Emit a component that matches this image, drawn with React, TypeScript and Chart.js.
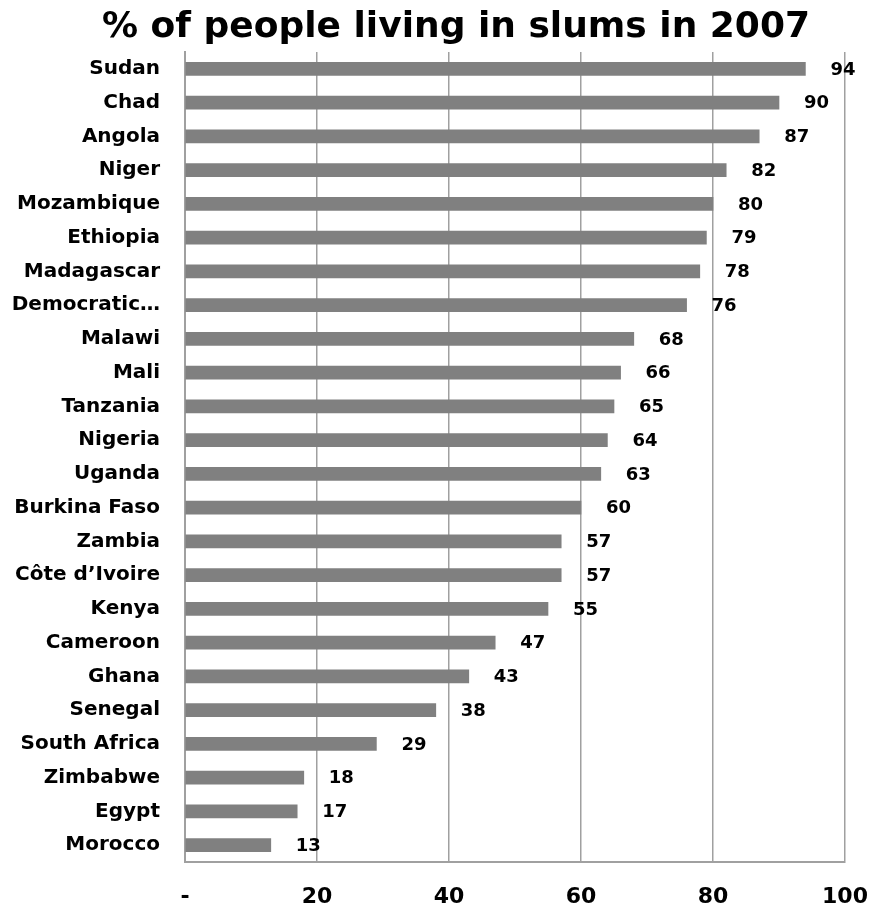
import React, { useEffect, useRef } from "react";
import { Chart, registerables } from "chart.js";

Chart.register(...registerables);

const titleText = "% of people living in slums in 2007";
const categories = [
  "Sudan", "Chad", "Angola", "Niger", "Mozambique", "Ethiopia", "Madagascar",
  "Democratic\u2026", "Malawi", "Mali", "Tanzania", "Nigeria", "Uganda",
  "Burkina Faso", "Zambia", "C\u00f4te d\u2019Ivoire", "Kenya", "Cameroon",
  "Ghana", "Senegal", "South Africa", "Zimbabwe", "Egypt", "Morocco",
];
const values = [94, 90, 87, 82, 80, 79, 78, 76, 68, 66, 65, 64, 63, 60, 57, 57, 55, 47, 43, 38, 29, 18, 17, 13];
const xTickValues = [0, 20, 40, 60, 80, 100];
const xTickLabels = ["-", "20", "40", "60", "80", "100"];

const FONT = "'DejaVu Sans', sans-serif";

const titlePlugin = {
  id: "customTitle",
  afterDraw(chart: any) {
    const ctx = chart.ctx;
    ctx.save();
    ctx.font = `bold 36px ${FONT}`;
    ctx.fillStyle = "#000";
    ctx.textAlign = "center";
    ctx.textBaseline = "middle";
    ctx.fillText(titleText, 456, 28);
    ctx.restore();
  },
};

const valueLabelPlugin = {
  id: "valueLabels",
  afterDatasetsDraw(chart: any) {
    const ctx = chart.ctx;
    const meta = chart.getDatasetMeta(0);
    ctx.save();
    ctx.font = `bold 18px ${FONT}`;
    ctx.fillStyle = "#000";
    ctx.textAlign = "left";
    ctx.textBaseline = "middle";
    meta.data.forEach((bar: any, i: number) => {
      ctx.fillText(String(values[i]), bar.x + 25, bar.y + 1);
    });
    ctx.restore();
  },
};

export default function App() {
  const ref = useRef<HTMLCanvasElement | null>(null);
  useEffect(() => {
    if (!ref.current) return;
    const chart = new Chart(ref.current, {
      type: "bar",
      data: {
        labels: categories,
        datasets: [
          {
            data: values,
            backgroundColor: "#808080",
            borderWidth: 0,
            barThickness: 13,
          },
        ],
      },
      options: {
        indexAxis: "y",
        animation: false,
        responsive: true,
        maintainAspectRatio: false,
        layout: { padding: { left: 0, right: 30, top: 52, bottom: 0 } },
        plugins: {
          legend: { display: false },
          title: { display: false },
          tooltip: { enabled: false },
        },
        scales: {
          x: {
            min: 0,
            max: 100,
            afterFit: (scale: any) => {
              scale.height = 48;
              scale.paddingLeft = 0;
              scale.paddingRight = 0;
            },
            afterBuildTicks: (scale: any) => {
              scale.ticks = xTickValues.map((v) => ({ value: v }));
            },
            ticks: {
              padding: 22,
              color: "#000",
              font: { family: FONT, size: 22, weight: "bold" },
              maxRotation: 0,
              callback: (v: any) => {
                const i = xTickValues.indexOf(Number(v));
                return i >= 0 ? xTickLabels[i] : "";
              },
            },
            grid: {
              color: "#a0a0a0",
              lineWidth: 1.5,
              drawTicks: false,
            },
            border: { display: true, color: "#a0a0a0", width: 2 },
          },
          y: {
            afterFit: (scale: any) => {
              scale.width = 185;
              scale.paddingTop = 0;
              scale.paddingBottom = 0;
            },
            ticks: {
              padding: 25,
              color: "#000",
              font: { family: FONT, size: 20, weight: "bold" },
              autoSkip: false,
            },
            grid: { display: false, drawTicks: false },
            border: { display: true, color: "#a0a0a0", width: 2 },
          },
        },
      },
      plugins: [titlePlugin, valueLabelPlugin],
    });
    return () => chart.destroy();
  }, []);
  return (
    <div style={{ position: "fixed", left: 0, top: 0, width: 875, height: 910, background: "#fff" }}>
      <canvas ref={ref} />
    </div>
  );
}
